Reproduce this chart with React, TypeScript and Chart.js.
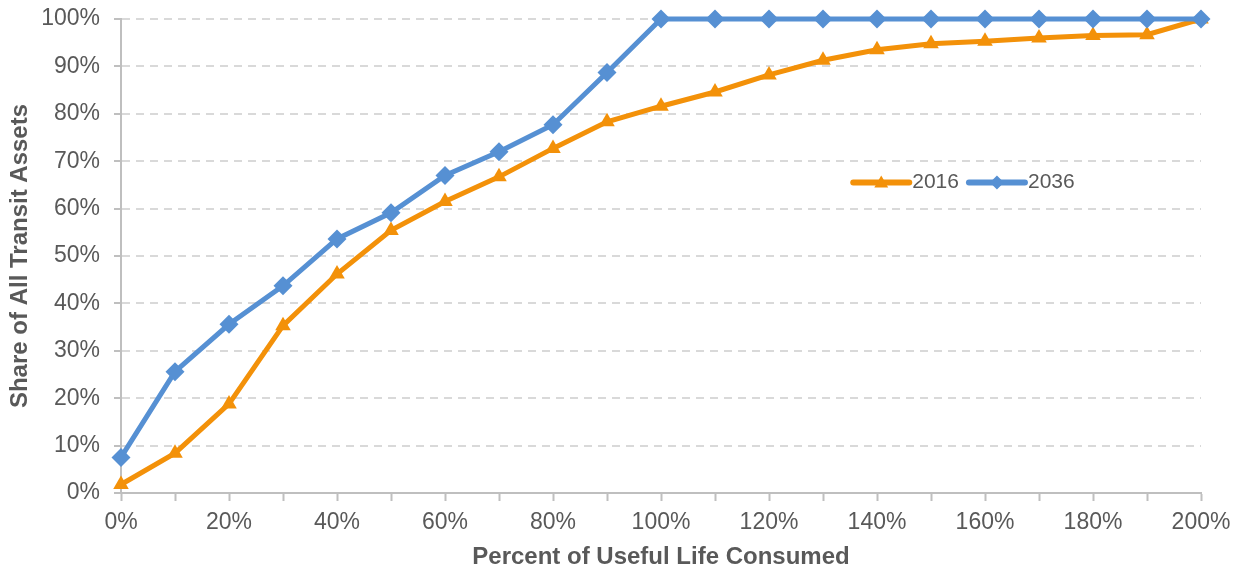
import React, { useEffect, useRef } from "react";
import { Chart, registerables } from "chart.js";

Chart.register(...registerables);

// ---- Data ----
const pctLifeConsumed = [0, 10, 20, 30, 40, 50, 60, 70, 80, 90, 100, 110, 120, 130, 140, 150, 160, 170, 180, 190, 200];
const share2016 = [1.8, 8.4, 18.8, 35.3, 46.2, 55.4, 61.5, 66.7, 72.7, 78.3, 81.6, 84.6, 88.2, 91.3, 93.5, 94.8, 95.3, 96.0, 96.5, 96.7, 100];
const share2036 = [7.5, 25.6, 35.6, 43.7, 53.6, 59.1, 67.0, 72.0, 77.7, 88.7, 100, 100, 100, 100, 100, 100, 100, 100, 100, 100, 100];
const seriesNames = ["2016", "2036"];
const xTitle = "Percent of Useful Life Consumed";
const yTitle = "Share of All Transit Assets";

const ORANGE = "#F39109";
const BLUE = "#5690D3";
const TEXT = "#595959";
const FONT = "'Liberation Sans', Arial, sans-serif";

function drawTriangle(ctx: CanvasRenderingContext2D, x: number, y: number, r: number) {
  ctx.beginPath();
  ctx.moveTo(x, y - r);
  ctx.lineTo(x + r * Math.sin(Math.PI / 3), y + r * 0.5);
  ctx.lineTo(x - r * Math.sin(Math.PI / 3), y + r * 0.5);
  ctx.closePath();
  ctx.fill();
}
function drawDiamond(ctx: CanvasRenderingContext2D, x: number, y: number, r: number) {
  ctx.beginPath();
  ctx.moveTo(x, y - r);
  ctx.lineTo(x + r, y);
  ctx.lineTo(x, y + r);
  ctx.lineTo(x - r, y);
  ctx.closePath();
  ctx.fill();
}

const insideLegend = {
  id: "insideLegend",
  afterDatasetsDraw(chart: any) {
    const { ctx, chartArea } = chart;
    const y = chartArea.top + (chartArea.bottom - chartArea.top) * 0.345;
    let x = chartArea.left + (chartArea.right - chartArea.left) * 0.678;
    const lineLen = 56;
    const items = [
      { name: seriesNames[0], color: ORANGE, marker: "tri" },
      { name: seriesNames[1], color: BLUE, marker: "dia" },
    ];
    ctx.save();
    ctx.font = `21px ${FONT}`;
    ctx.textBaseline = "middle";
    ctx.textAlign = "left";
    for (const it of items) {
      ctx.strokeStyle = it.color;
      ctx.fillStyle = it.color;
      ctx.lineWidth = 6;
      ctx.lineCap = "round";
      ctx.beginPath();
      ctx.moveTo(x, y);
      ctx.lineTo(x + lineLen, y);
      ctx.stroke();
      if (it.marker === "tri") drawTriangle(ctx, x + lineLen / 2, y + 1, 8);
      else drawDiamond(ctx, x + lineLen / 2, y, 7);
      ctx.fillStyle = TEXT;
      ctx.fillText(it.name, x + lineLen + 3, y);
      x += lineLen + 3 + ctx.measureText(it.name).width + 10;
    }
    ctx.restore();
  },
};

export default function App() {
  const canvasRef = useRef<HTMLCanvasElement | null>(null);

  useEffect(() => {
    if (!canvasRef.current) return;
    const pts = (vals: number[]) => pctLifeConsumed.map((x, i) => ({ x, y: vals[i] }));
    const chart = new Chart(canvasRef.current, {
      type: "line",
      data: {
        datasets: [
          {
            label: seriesNames[1],
            data: pts(share2036),
            borderColor: BLUE,
            backgroundColor: BLUE,
            borderWidth: 5,
            pointStyle: "rectRot",
            pointRadius: 9.5,
            pointBorderWidth: 0,
            pointBackgroundColor: BLUE,
            tension: 0,
            clip: false,
          } as any,
          {
            label: seriesNames[0],
            data: pts(share2016),
            borderColor: ORANGE,
            backgroundColor: ORANGE,
            borderWidth: 5,
            pointStyle: "triangle",
            pointRadius: 9,
            pointBorderWidth: 0,
            pointBackgroundColor: ORANGE,
            tension: 0,
            clip: false,
          } as any,
        ],
      },
      options: {
        animation: false,
        responsive: true,
        maintainAspectRatio: false,
        devicePixelRatio: 1,
        layout: { padding: { left: 0, right: 37, top: 19, bottom: 0 } },
        plugins: {
          legend: { display: false },
          tooltip: { enabled: false },
          title: { display: false },
        },
        scales: {
          x: {
            type: "linear",
            min: 0,
            max: 200,
            afterFit: (s: any) => {
              s.height = 80;
              s.paddingLeft = 0;
              s.paddingRight = 0;
            },
            ticks: {
              stepSize: 10,
              autoSkip: false,
              maxRotation: 0,
              minRotation: 0,
              padding: 8,
              color: TEXT,
              font: { family: FONT, size: 23 },
              callback: (v: any) => (Number(v) % 20 === 0 ? `${v}%` : ""),
            },
            grid: {
              drawOnChartArea: false,
              drawTicks: true,
              tickLength: 8,
              tickColor: "#BFBFBF",
              tickWidth: 2,
              color: "#BFBFBF",
            },
            border: { display: true, color: "#BFBFBF", width: 2 },
            title: {
              display: true,
              text: xTitle,
              color: TEXT,
              font: { family: FONT, size: 24, weight: "bold" },
              padding: { top: 0, bottom: 1 },
            },
          },
          y: {
            min: 0,
            max: 100,
            afterFit: (s: any) => {
              s.width = 121;
              s.paddingTop = 0;
              s.paddingBottom = 0;
            },
            ticks: {
              stepSize: 10,
              padding: 14,
              color: TEXT,
              font: { family: FONT, size: 23 },
              callback: (v: any) => `${v}%`,
            },
            grid: {
              color: "#D9D9D9",
              lineWidth: 2,
              drawTicks: true,
              tickLength: 7,
              tickColor: "#BFBFBF",
              tickWidth: 2,
              tickBorderDash: [],
            } as any,
            border: { display: true, color: "#BFBFBF", width: 2, dash: [8, 6] },
            title: {
              display: true,
              text: yTitle,
              color: TEXT,
              font: { family: FONT, size: 24, weight: "bold" },
              padding: { top: 6, bottom: 0 },
            },
          },
        },
      } as any,
      plugins: [insideLegend],
    });
    return () => chart.destroy();
  }, []);

  return (
    <div style={{ position: "absolute", left: 0, top: 0, width: 1238, height: 573, background: "#fff" }}>
      <canvas ref={canvasRef} />
    </div>
  );
}
